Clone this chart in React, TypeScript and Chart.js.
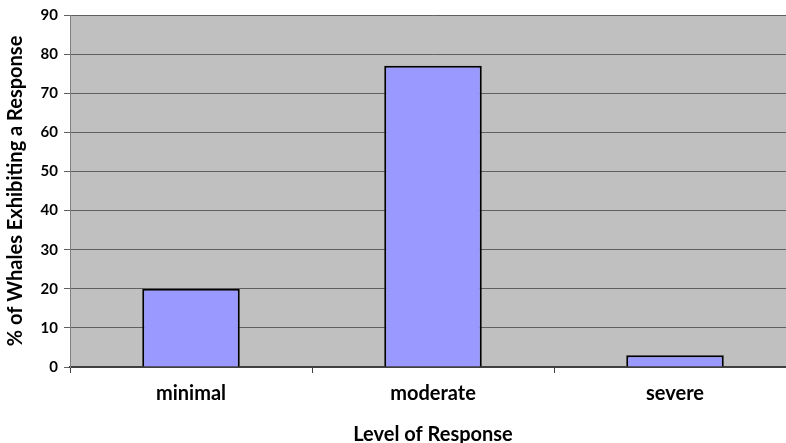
import React, { useEffect, useRef } from "react";
import { Chart, registerables } from "chart.js";

Chart.register(...registerables);

const categories = ["minimal", "moderate", "severe"];
const values = [20, 77, 3];
const yTickMax = 90;
const yTickStep = 10;

const bgPlugin = {
  id: "plotBg",
  beforeDraw(chart: any) {
    const { ctx, chartArea } = chart;
    ctx.save();
    ctx.fillStyle = "#C0C0C0";
    ctx.fillRect(chartArea.left, chartArea.top, chartArea.right - chartArea.left, chartArea.bottom - chartArea.top);
    ctx.restore();
  },
};

export default function App() {
  const ref = useRef<HTMLCanvasElement>(null);
  useEffect(() => {
    document.body.style.margin = "0";
    const font = "Lato, 'Open Sans', sans-serif";
    const chart = new Chart(ref.current!, {
      type: "bar",
      data: {
        labels: categories,
        datasets: [
          {
            data: values,
            backgroundColor: "#9999FF",
            borderColor: "#000000",
            borderWidth: 2,
            barPercentage: 0.403,
            categoryPercentage: 1,
          },
        ],
      },
      plugins: [bgPlugin],
      options: {
        animation: false,
        responsive: false,
        maintainAspectRatio: false,
        layout: { padding: { top: 15, right: 2, left: 0, bottom: 0 } },
        plugins: { legend: { display: false }, tooltip: { enabled: false } },
        scales: {
          x: {
            afterFit(scale: any) {
              scale.height = 76;
            },
            grid: {
              offset: true,
              drawOnChartArea: false,
              tickLength: 6,
              color: "#404040",
            },
            border: { color: "#404040", width: 2 },
            ticks: {
              color: "#000",
              padding: 9,
              font: { family: font, size: 20, weight: "bold" },
            },
            title: {
              display: true,
              text: "Level of Response",
              color: "#000",
              padding: { top: 4, bottom: 0 },
              font: { family: font, size: 20, weight: "bold", lineHeight: 0.8 },
            },
          },
          y: {
            min: 0,
            max: yTickMax,
            afterFit(scale: any) {
              scale.width = 70;
            },
            grid: {
              color: "#606060",
              lineWidth: 1,
              tickLength: 6,
            },
            border: { color: "#808080", width: 1 },
            ticks: {
              stepSize: yTickStep,
              color: "#000",
              padding: 6,
              font: { family: font, size: 15, weight: "bold" },
            },
            title: {
              display: true,
              text: "% of Whales Exhibiting a Response",
              color: "#000",
              padding: { top: 4, bottom: 0 },
              font: { family: font, size: 20, weight: "bold" },
            },
          },
        },
      },
    });
    return () => chart.destroy();
  }, []);
  return (
    <div style={{ width: 786, height: 443, overflow: "hidden" }}>
      <canvas ref={ref} width={798} height={443} style={{ display: "block" }} />
    </div>
  );
}
